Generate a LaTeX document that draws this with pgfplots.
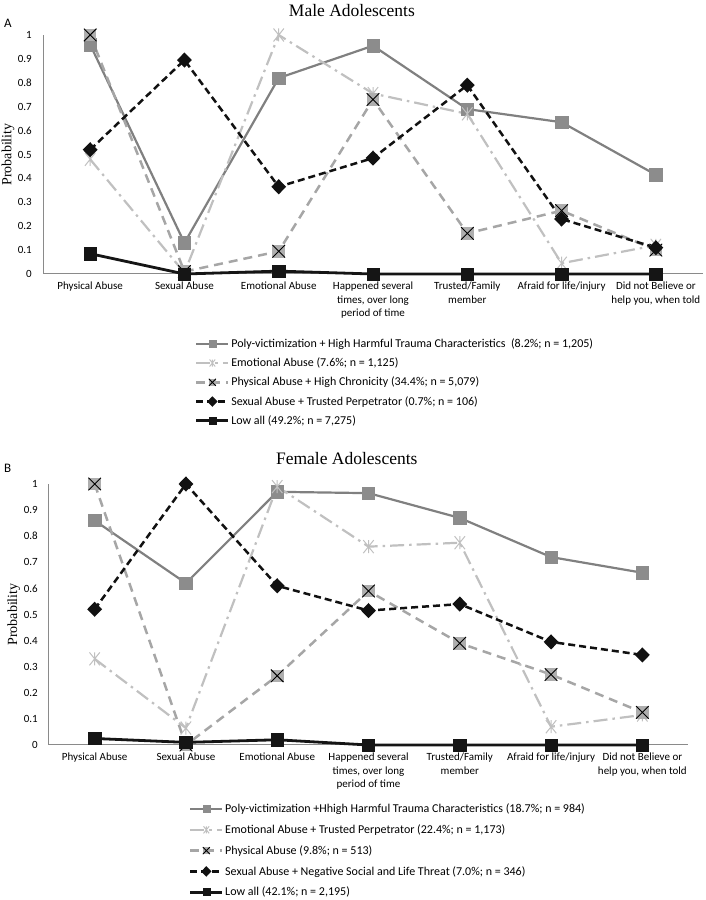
\documentclass[border=0pt]{standalone}
\usepackage{fontspec}
\setmainfont{Carlito}
\newfontfamily\seriffont{Liberation Serif}
\usepackage{pgfplots}
\pgfplotsset{compat=1.18}

\definecolor{cA}{HTML}{808080}
\definecolor{cAm}{HTML}{8C8C8C}
\definecolor{cB}{HTML}{C0C0C0}
\definecolor{cC}{HTML}{A6A6A6}
\definecolor{cCm}{HTML}{AEAEAE}
\definecolor{cD}{HTML}{111111}
\definecolor{cE}{HTML}{151515}
\definecolor{axc}{HTML}{8A8A8A}

\pgfdeclareplotmark{sqx}{%
  \pgfpathrectangle{\pgfpoint{-\pgfplotmarksize}{-\pgfplotmarksize}}{\pgfpoint{2\pgfplotmarksize}{2\pgfplotmarksize}}%
  \pgfusepathqfill
  \pgfsetlinewidth{0.9pt}%
  \pgfsetstrokecolor{black}%
  \pgfpathmoveto{\pgfpoint{-\pgfplotmarksize}{-\pgfplotmarksize}}%
  \pgfpathlineto{\pgfpoint{\pgfplotmarksize}{\pgfplotmarksize}}%
  \pgfpathmoveto{\pgfpoint{-\pgfplotmarksize}{\pgfplotmarksize}}%
  \pgfpathlineto{\pgfpoint{\pgfplotmarksize}{-\pgfplotmarksize}}%
  \pgfusepathqstroke
}
\pgfdeclareplotmark{xstar}{%
  \pgfpathmoveto{\pgfpoint{-0.8\pgfplotmarksize}{-\pgfplotmarksize}}%
  \pgfpathlineto{\pgfpoint{0.8\pgfplotmarksize}{\pgfplotmarksize}}%
  \pgfpathmoveto{\pgfpoint{-0.8\pgfplotmarksize}{\pgfplotmarksize}}%
  \pgfpathlineto{\pgfpoint{0.8\pgfplotmarksize}{-\pgfplotmarksize}}%
  \pgfpathmoveto{\pgfpoint{0pt}{-\pgfplotmarksize}}%
  \pgfpathlineto{\pgfpoint{0pt}{\pgfplotmarksize}}%
  \pgfusepathqstroke
}

\pgfplotsset{
  common/.style={
    scale only axis,
    xmin=-0.5, xmax=6.5, ymin=0, ymax=1,
    axis lines=left,
    axis line style={-, draw=axc, line width=1pt},
    major tick length=0pt,
    xtick={0,1,2,3,4,5,6},
    xticklabels={Physical Abuse, Sexual Abuse, Emotional Abuse, {Happened several\\times, over long\\period of time}, {Trusted/Family\\member}, Afraid for life/injury, {Did not Believe or\\help you, when told}},
    ytick={0,0.1,0.2,0.3,0.4,0.5,0.6,0.7,0.8,0.9,1},
    yticklabels={0,0.1,0.2,0.3,0.4,0.5,0.6,0.7,0.8,0.9,1},
    xticklabel style={anchor=north, inner sep=0pt, yshift=-8pt, align=center, font=\fontsize{11}{13.5}\selectfont, text=black},
    yticklabel style={anchor=east, inner sep=0pt, xshift=-11pt, font=\fontsize{11}{13}\selectfont, text=black},
    ylabel={Probability},
    ylabel style={at={(axis description cs:-0.053,0.5)}, anchor=center, font=\seriffont\fontsize{14}{16}\selectfont},
    title style={anchor=base, font=\seriffont\fontsize{17.5}{20}\selectfont},
    legend cell align=left,
    legend style={draw=none, fill=none, anchor=north west, inner sep=0pt, outer sep=0pt,
      font=\fontsize{12}{13.5}\selectfont, text=black,
      nodes={inner sep=1.5pt}},
    legend image code/.code={%
      \draw[mark repeat=2, mark phase=2, mark size=3.5pt] plot coordinates {(0pt,0pt) (16pt,0pt) (32pt,0pt)};},
    clip=false,
  },
  sA/.style={color=cA, line width=2.2pt, mark=square*, mark size=6.2pt, mark options={solid, fill=cAm, draw=cAm, line width=0.5pt}},
  sB/.style={color=cB, line width=2.2pt, dash pattern=on 14pt off 5pt on 2.5pt off 5pt, mark=xstar, mark size=6.5pt, mark options={solid, line width=1pt}},
  sC/.style={color=cC, line width=2.5pt, dash pattern=on 9pt off 6pt, mark=sqx, mark size=6.3pt, mark options={solid, fill=cCm}},
  sD/.style={color=cD, line width=2.5pt, dash pattern=on 7pt off 4pt, mark=diamond*, mark size=5.8pt, mark options={solid, xscale=1.3, fill=cD}},
  sE/.style={color=cE, line width=2.8pt, mark=square*, mark size=6.2pt, mark options={solid, fill=cE, line width=0.5pt}},
}

\begin{document}
\begin{tikzpicture}
\useasboundingbox (0pt,0pt) rectangle (705pt,900pt);

% ---------- Male ----------
\begin{axis}[common,
  at={(43pt,626pt)}, anchor=south west, width=660pt, height=239pt,
  title={Male Adolescents},
  title style={at={(axis description cs:0.468,1)}, yshift=12pt},
  legend style={at={(axis description cs:0.2303,-0.264)}, row sep=6pt},
]
\addplot[sA] coordinates {(0,0.96) (1,0.13) (2,0.82) (3,0.955) (4,0.69) (5,0.635) (6,0.415)};
\addplot[sB] coordinates {(0,0.48) (1,0.005) (2,1.0) (3,0.755) (4,0.67) (5,0.045) (6,0.12)};
\addplot[sC] coordinates {(0,1.0) (1,0.01) (2,0.095) (3,0.73) (4,0.17) (5,0.265) (6,0.10)};
\addplot[sD] coordinates {(0,0.52) (1,0.895) (2,0.365) (3,0.485) (4,0.79) (5,0.23) (6,0.11)};
\addplot[sE] coordinates {(0,0.085) (1,0.0) (2,0.012) (3,0.0) (4,0.0) (5,0.0) (6,0.0)};
\legend{{Poly-victimization + High Harmful Trauma Characteristics\ \ (8.2\%; n = 1,205)},
  {Emotional Abuse (7.6\%; n = 1,125)},
  {Physical Abuse + High Chronicity (34.4\%; n = 5,079)},
  {Sexual Abuse + Trusted Perpetrator (0.7\%; n = 106)},
  {Low all (49.2\%; n = 7,275)}}
\end{axis}

% ---------- Female ----------
\begin{axis}[common,
  at={(49pt,155pt)}, anchor=south west, width=639pt, height=261pt,
  title={Female Adolescents},
  title style={at={(axis description cs:0.466,1)}, yshift=13pt},
  ylabel style={at={(axis description cs:-0.055,0.5)}},
  legend style={at={(axis description cs:0.219,-0.220)}, row sep=7.5pt},
]
\addplot[sA] coordinates {(0,0.86) (1,0.62) (2,0.97) (3,0.965) (4,0.87) (5,0.72) (6,0.66)};
\addplot[sB] coordinates {(0,0.33) (1,0.065) (2,0.99) (3,0.76) (4,0.775) (5,0.07) (6,0.115)};
\addplot[sC] coordinates {(0,1.0) (1,0.0) (2,0.265) (3,0.59) (4,0.39) (5,0.27) (6,0.125)};
\addplot[sD] coordinates {(0,0.52) (1,1.0) (2,0.61) (3,0.515) (4,0.54) (5,0.395) (6,0.345)};
\addplot[sE] coordinates {(0,0.025) (1,0.01) (2,0.02) (3,0.0) (4,0.0) (5,0.0) (6,0.0)};
\legend{{Poly-victimization +Hhigh Harmful Trauma Characteristics (18.7\%; n = 984)},
  {Emotional Abuse + Trusted Perpetrator (22.4\%; n = 1,173)},
  {Physical Abuse (9.8\%; n = 513)},
  {Sexual Abuse + Negative Social and Life Threat (7.0\%; n = 346)},
  {Low all (42.1\%; n = 2,195)}}
\end{axis}

\node[anchor=base west, font=\fontsize{13}{15}\selectfont, inner sep=0pt] at (4pt,872pt) {A};
\node[anchor=base west, font=\fontsize{13}{15}\selectfont, inner sep=0pt] at (4pt,427pt) {B};
\end{tikzpicture}
\end{document}
